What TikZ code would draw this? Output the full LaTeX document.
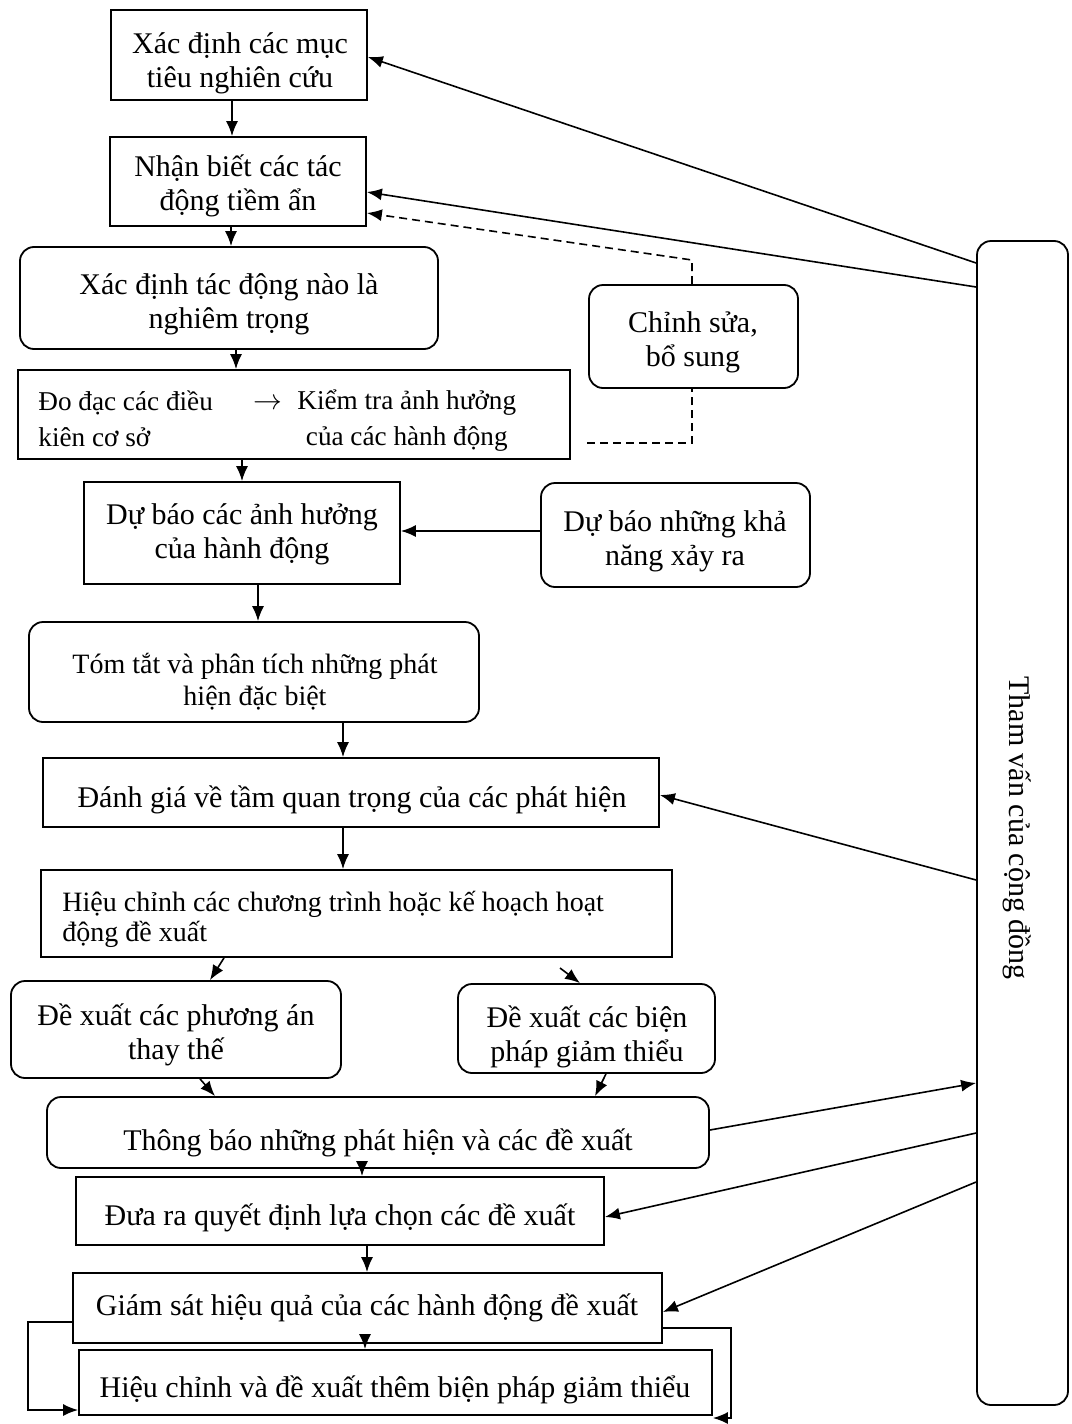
\documentclass[tikz,border=0pt]{standalone}
\usepackage{fontspec}
\setmainfont{Liberation Serif}
\usetikzlibrary{arrows.meta}
\begin{document}
\begin{tikzpicture}[x=0.5pt,y=-0.5pt,
  box/.style={draw, line width=0.9pt, inner sep=0pt},
  rbox/.style={box, rounded corners=7pt},
  txt/.style={inner sep=0pt, align=center, font=\fontsize{15}{17}\selectfont},
  stxt/.style={inner sep=0pt, align=center, font=\fontsize{14}{16}\selectfont},
  arr/.style={-{Latex[length=7.5pt,width=6pt]}, line width=0.8pt},
  dline/.style={line width=0.8pt, dash pattern=on 4pt off 2.5pt}]
\useasboundingbox (0,0) rectangle (1071,1424);
% boxes
\node[box, minimum width=128pt, minimum height=45pt] (A) at (239,55) {};
\node[txt] (At) at (240,63) {Xác định các mục\\tiêu nghiên cứu};
\node[box, minimum width=128pt, minimum height=44.5pt] (B) at (238,181.5) {};
\node[txt] (Bt) at (238,185.5) {Nhận biết các tác\\động tiềm ẩn};
\node[rbox, minimum width=209pt, minimum height=51pt] (C) at (229,298) {};
\node[txt] (Ct) at (229,304.5) {Xác định tác động nào là\\nghiêm trọng};
\node[box, minimum width=276pt, minimum height=44.5pt] (D) at (294,414.5) {};
\node[stxt, font=\fontsize{13.6}{18}\selectfont, align=left, anchor=west] (D1) at (38,419) {Đo đạc các điều\\kiên cơ sở};
\node[stxt] (D2) at (268,404) {$\rightarrow$};
\node[stxt, font=\fontsize{13.6}{18}\selectfont, anchor=west] (D3) at (297,421) {Kiểm tra ảnh hưởng\\của các hành động};
\node[rbox, minimum width=104.5pt, minimum height=51.5pt] (R) at (693.5,336.5) {};
\node[txt] (Rt) at (693,342.5) {Chỉnh sửa,\\bổ sung};
\node[box, minimum width=158pt, minimum height=51pt] (E) at (242,533) {};
\node[txt] (Et) at (242,534.5) {Dự báo các ảnh hưởng\\của hành động};
\node[rbox, minimum width=134.5pt, minimum height=52pt] (F) at (675.5,535) {};
\node[txt] (Ft) at (675,541) {Dự báo những khả\\năng xảy ra};
\node[rbox, minimum width=225pt, minimum height=50pt] (G) at (254,672) {};
\node[stxt] (Gt) at (255,682) {Tóm tắt và phân tích những phát\\hiện đặc biệt};
\node[box, minimum width=308pt, minimum height=34.5pt] (H) at (351,792.5) {};
\node[txt] (Ht) at (352,800) {Đánh giá về tầm quan trọng của các phát hiện};
\node[box, minimum width=315.5pt, minimum height=43.5pt] (I) at (356.5,913.5) {};
\node[stxt, font=\fontsize{14}{15}\selectfont, align=left, anchor=west] (It) at (62,919) {Hiệu chỉnh các chương trình hoặc kế hoạch hoạt\\động đề xuất};
\node[rbox, minimum width=165pt, minimum height=48.5pt] (J) at (176,1029.5) {};
\node[txt] (Jt) at (176,1034.5) {Đề xuất các phương án\\thay thế};
\node[rbox, minimum width=128.5pt, minimum height=44.5pt] (K) at (586.5,1028.5) {};
\node[txt] (Kt) at (587,1036.5) {Đề xuất các biện\\pháp giảm thiểu};
\node[rbox, minimum width=331pt, minimum height=35.5pt] (L) at (378,1132.5) {};
\node[txt] (Lt) at (378,1143) {Thông báo những phát hiện và các đề xuất};
\node[box, minimum width=264pt, minimum height=34pt] (M) at (340,1211) {};
\node[txt] (Mt) at (340,1218) {Đưa ra quyết định lựa chọn các đề xuất};
\node[box, minimum width=294.5pt, minimum height=35pt] (N) at (367.5,1308) {};
\node[txt] (Nt) at (367,1308) {Giám sát hiệu quả của các hành động đề xuất};
\node[box, minimum width=316.5pt, minimum height=32.5pt] (O) at (395.5,1382.5) {};
\node[txt] (Ot) at (395,1390) {Hiệu chỉnh và đề xuất thêm biện pháp giảm thiểu};
\node[rbox, minimum width=45.5pt, minimum height=582pt] (T) at (1022.5,823) {};
\node[txt, rotate=-90] (Tt) at (1017,828) {Tham vấn của cộng đồng};
% main flow
\draw[arr] (A.south -| 232,0) -- (B.north -| 232,0);
\draw[arr] (B.south -| 231,0) -- (C.north -| 231,0);
\draw[arr] (C.south -| 236,0) -- (D.north -| 236,0);
\draw[arr] (D.south -| 242,0) -- (E.north -| 242,0);
\draw[arr] (E.south -| 258,0) -- (G.north -| 258,0);
\draw[arr] (G.south -| 343,0) -- (H.north -| 343,0);
\draw[arr] (H.south -| 343,0) -- (I.north -| 343,0);
\draw[arr] (I.south -| 224,0) -- (J.north -| 210,0);
\coordinate (ik) at (560,968);
\draw[arr] (ik) -- (K.north -| 580,0);
\draw[arr] (J.south -| 200,0) -- (L.north -| 215,0);
\draw[arr] (K.south -| 606,0) -- (L.north -| 595,0);
\draw[arr] (L.south -| 362,0) -- (M.north -| 362,0);
\draw[arr] (M.south -| 367,0) -- (N.north -| 367,0);
\draw[arr] (N.south -| 365,0) -- (O.north -| 365,0);
% loops
\draw[arr] (N.west |- 0,1322) -- (28,1322) -- (28,1410) -- (O.west |- 0,1410);
\draw[arr] (N.east |- 0,1328) -- (731,1328) -- (731,1418) -- (O.east |- 0,1418);
% side
\draw[arr] (F.west |- 0,531) -- (E.east |- 0,531);
\coordinate (d0) at (587,443);
\draw[dline] (d0) -- (692,443) -- (R.south -| 692,0);
\draw[dline, arr] (R.north -| 692,0) -- (692,260) -- (B.east |- 0,213);
% community
\draw[arr] (T.west |- 0,263) -- (A.east |- 0,57);
\draw[arr] (T.west |- 0,287) -- (B.east |- 0,192);
\draw[arr] (T.west |- 0,880) -- (H.east |- 0,795);
\draw[arr] (L.east |- 0,1130) -- (T.west |- 0,1083);
\draw[arr] (T.west |- 0,1133) -- (M.east |- 0,1217);
\draw[arr] (T.west |- 0,1182) -- (N.east |- 0,1312);
\end{tikzpicture}
\end{document}
